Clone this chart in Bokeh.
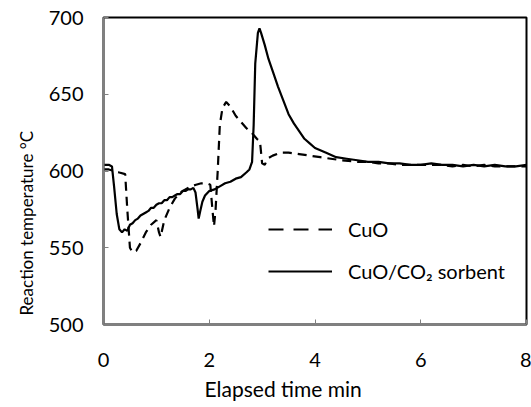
from bokeh.plotting import figure
from bokeh.models import ColumnDataSource, Legend, LegendItem, FixedTicker, Range1d, Title
from bokeh.embed import file_html
from bokeh.resources import INLINE

# CuO/CO2 sorbent (solid)
sorb_t = [0.00, 0.10, 0.16, 0.20, 0.25, 0.30, 0.35, 0.40, 0.45, 0.50, 0.55, 0.60, 0.65, 0.70,
          0.75, 0.80, 0.85, 0.90, 0.95, 1.00, 1.05, 1.10, 1.15, 1.20, 1.25, 1.30, 1.35, 1.40,
          1.45, 1.50, 1.55, 1.60, 1.65, 1.70, 1.74, 1.78, 1.80, 1.83, 1.87, 1.92, 2.00, 2.10,
          2.20, 2.30, 2.40, 2.50, 2.60, 2.70, 2.76, 2.81, 2.84, 2.87, 2.92, 2.95, 2.98, 3.05,
          3.12, 3.20, 3.30, 3.40, 3.50, 3.60, 3.70, 3.80, 3.90, 4.00, 4.20, 4.40, 4.60, 4.80,
          5.00, 5.20, 5.40, 5.60, 5.80, 6.00, 6.20, 6.40, 6.60, 6.80, 7.00, 7.20, 7.40, 7.60,
          7.80, 8.00]
sorb_T = [604, 604, 603, 590, 572, 562, 560, 562, 561, 565, 566, 568, 569, 571,
          572, 573, 574, 576, 576, 578, 579, 579, 581, 581, 583, 583, 584, 585,
          585, 587, 587, 588, 588, 589, 586, 575, 569, 574, 580, 584, 587, 588,
          590, 592, 593, 595, 596, 599, 601, 606, 630, 670, 690, 693, 690, 682,
          673, 665, 655, 646, 637, 631, 626, 621, 618, 615, 612, 609, 608, 607,
          606, 606, 605, 605, 604, 604, 605, 604, 604, 603, 604, 603, 604, 603,
          603, 604]

# CuO (dashed)
cuo_t = [0.00, 0.10, 0.20, 0.30, 0.41, 0.45, 0.50, 0.55, 0.62, 0.70, 0.80, 0.90, 1.00, 1.05,
         1.08, 1.15, 1.25, 1.35, 1.45, 1.55, 1.65, 1.75, 1.85, 1.95, 2.02, 2.06, 2.09, 2.12,
         2.16, 2.20, 2.25, 2.32, 2.40, 2.50, 2.60, 2.70, 2.80, 2.90, 2.96, 3.00, 3.05, 3.10,
         3.20, 3.35, 3.50, 3.70, 3.90, 4.10, 4.30, 4.50, 4.80, 5.00, 5.20, 5.40, 5.60, 5.80,
         6.00, 6.20, 6.40, 6.60, 6.80, 7.00, 7.20, 7.40, 7.60, 7.80, 8.00]
cuo_T = [601, 601, 600, 599, 598, 575, 550, 547, 548, 553, 560, 565, 568, 560,
         557, 568, 576, 582, 586, 588, 590, 591, 592, 592, 591, 575, 564, 575,
         600, 630, 641, 645, 642, 636, 632, 628, 625, 621, 619, 605, 604, 608,
         610, 612, 612, 611, 610, 609, 608, 607, 606, 606, 605, 605, 604, 604,
         604, 604, 604, 603, 604, 603, 604, 603, 603, 603, 603]

x_ticks = [0, 2, 4, 6, 8]
y_ticks = [500, 550, 600, 650, 700]
x_title = "Elapsed time min"
y_title = "Reaction temperature \u00b0C"
series_names = ["CuO", "CuO/CO\u2082 sorbent"]

FONT = "Lato"

p = figure(width=531, height=407, output_backend="svg", toolbar_location=None,
           x_range=Range1d(0, 8), y_range=Range1d(500, 700),
           min_border_left=103, min_border_right=5, min_border_top=17, min_border_bottom=83)
p.background_fill_color = "white"
p.border_fill_color = "white"
p.grid.visible = False
p.outline_line_color = "black"
p.outline_line_width = 2

for ax in (p.xaxis[0], p.yaxis[0]):
    ax.axis_line_color = "#808080"
    ax.axis_line_width = 2
    ax.major_tick_in = 5
    ax.major_tick_out = 0
    ax.major_tick_line_color = "#808080"
    ax.major_tick_line_width = 1
    ax.minor_tick_line_color = None
    ax.major_label_text_font = FONT
    ax.major_label_text_font_size = "20px"
    ax.major_label_text_color = "black"

p.xaxis.ticker = FixedTicker(ticks=x_ticks)
p.yaxis.ticker = FixedTicker(ticks=y_ticks)
p.xaxis.major_label_standoff = 28
p.yaxis.major_label_standoff = 20

# axis titles as side-panel titles (offset from centre as in the original)
p.add_layout(Title(text=x_title, align="left", offset=101, standoff=9,
                   text_font=FONT, text_font_size="21px", text_font_style="normal",
                   text_color="black"), "below")
p.add_layout(Title(text=y_title, align="left", offset=9, standoff=17,
                   text_font=FONT, text_font_size="17px", text_font_style="normal",
                   text_color="black"), "left")

s_cuo = ColumnDataSource(dict(t=cuo_t, T=cuo_T))
s_sorb = ColumnDataSource(dict(t=sorb_t, T=sorb_T))
p.line("t", "T", source=s_cuo, line_color="black", line_width=2.2, line_dash="9 6")
p.line("t", "T", source=s_sorb, line_color="black", line_width=2.2)

# legend-only renderers (not visible in the plot area)
nan = float("nan")
r_leg_cuo = p.line(x=[nan], y=[nan], line_color="black", line_width=2.2, line_dash="15 10")
r_leg_sorb = p.line(x=[nan], y=[nan], line_color="black", line_width=2.2)

legend = Legend(items=[LegendItem(label=series_names[0], renderers=[r_leg_cuo]),
                       LegendItem(label=series_names[1], renderers=[r_leg_sorb])],
                location=(165, 41), orientation="vertical",
                glyph_width=64, glyph_height=20, label_height=20, label_standoff=16,
                spacing=18, padding=0, margin=0,
                border_line_color=None, background_fill_alpha=0,
                label_text_font=FONT, label_text_font_size="20px", label_text_color="black")
p.add_layout(legend)

open("out.html", "w").write(file_html(p, INLINE))
